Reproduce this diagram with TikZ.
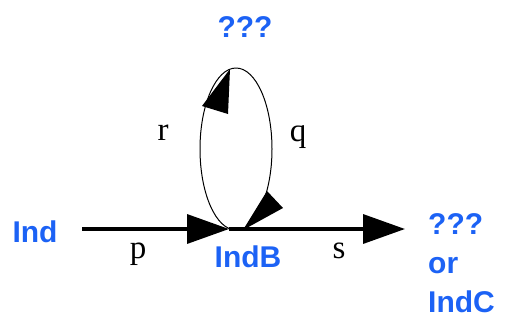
\documentclass[tikz,border=0pt]{standalone}
\usepackage{fontspec}
\setmainfont{Liberation Serif}
\newfontfamily\blufont{Liberation Sans}
\usetikzlibrary{arrows.meta}
\definecolor{lblue}{RGB}{28,98,245}
\tikzset{
  blu/.style={text=lblue,font=\blufont\bfseries\fontsize{30}{39}\selectfont,inner sep=0pt},
  lab/.style={font=\fontsize{33}{35}\selectfont,inner sep=0pt},
  mainline/.style={line width=3.5pt,-{Triangle[length=42pt,width=29pt]}},
}
\begin{document}
\begin{tikzpicture}[x=1pt,y=-1pt]
\useasboundingbox (0,0) rectangle (506,322);
% nodes
\node[blu] (Ind) at (35,232) {Ind};
\node[blu] (IndB) at (248,257) {IndB};
\node[blu] (top) at (245,27) {???};
\node[blu,align=left,anchor=north west] (right) at (428,213) {???\\or\\IndC};
\coordinate (start) at (82,229);
\coordinate (B) at (229,229);
\coordinate (end) at (405,229);
% main connectors
\draw[mainline] (start) -- (B);
\draw[mainline] (B) -- (end);
% loop
\draw[line width=1pt] (236,149) ellipse [x radius=36pt, y radius=81pt];
\fill (230,69) -- (202,106) -- (228,114) -- cycle;
\fill (243,230) -- (267,191) -- (283,208) -- cycle;
% labels
\node[lab] (r) at (163,133) {r};
\node[lab] (q) at (298,137) {q};
\node[lab] (p) at (138,254) {p};
\node[lab] (s) at (339,251) {s};
\end{tikzpicture}
\end{document}
